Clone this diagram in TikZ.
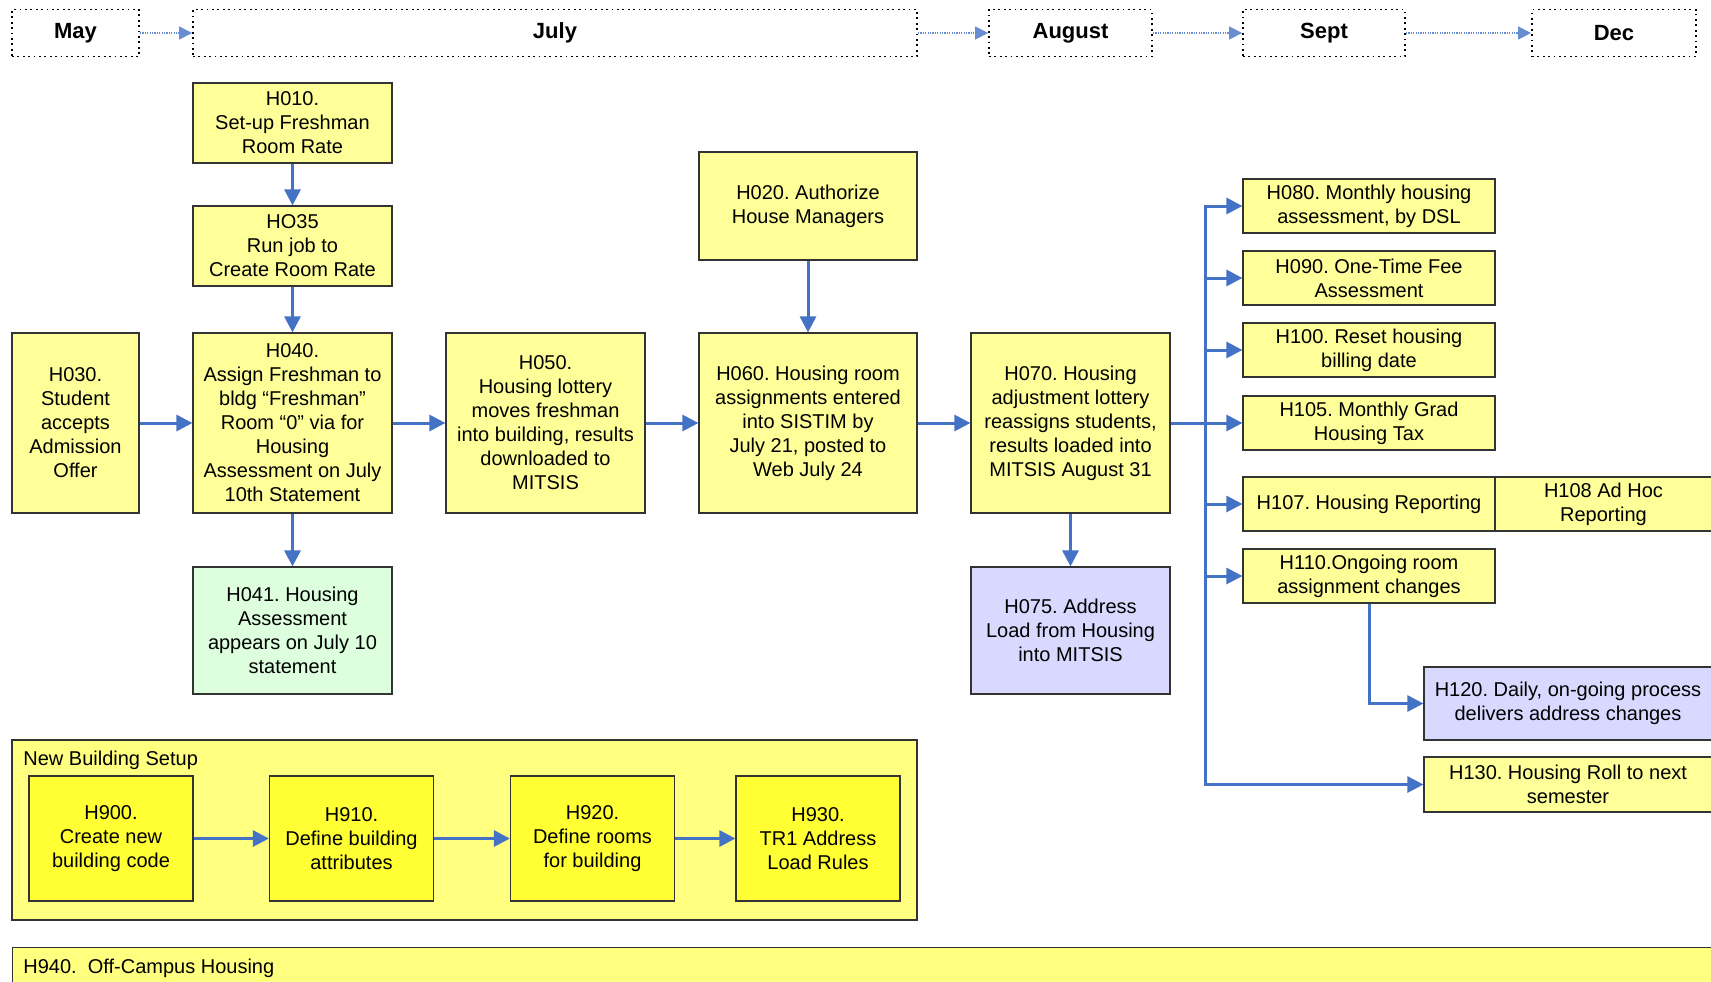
\documentclass[tikz,border=0pt]{standalone}
\usepackage{fontspec}
\setmainfont{Liberation Sans}
\usetikzlibrary{arrows.meta}
\frenchspacing
\definecolor{paleyellow}{HTML}{FFFF99}
\definecolor{setupyellow}{HTML}{FFFF80}
\definecolor{brightyellow}{HTML}{FFFF33}
\definecolor{palegreen}{HTML}{DDFFDD}
\definecolor{palelilac}{HTML}{D9D9FF}
\definecolor{flowblue}{HTML}{4472C4}
\tikzset{
  task/.style={draw=black!80, line width=0.6pt, fill=paleyellow, align=center, inner sep=0pt,
    font=\fontsize{10}{12}\selectfont},
  month/.style={draw=black, line width=0.9pt, dash pattern=on 0.9pt off 1.8pt, inner sep=0pt,
    minimum height=23.5pt, font=\fontsize{11}{13}\selectfont\bfseries},
  flowline/.style={draw=flowblue, line width=1.5pt},
  flow/.style={flowline, -{Triangle[length=8pt,width=8pt]}},
  timeflow/.style={draw=flowblue!80, line width=0.6pt, dash pattern=on 0.6pt off 0.6pt,
    -{Triangle[length=6.5pt,width=6.5pt]}},
}
\begin{document}
\begin{tikzpicture}[x=0.5pt,y=-0.5pt]
\useasboundingbox (0,0) rectangle (1711,981);
\clip (0,0) rectangle (1711,981);
% months
\node[month, minimum width=63.5pt] (may) at (75.5,33) {May};
\node[month, minimum width=362pt] (july) at (555,33) {July};
\node[month, minimum width=81.5pt] (aug) at (1070.5,33) {August};
\node[month, minimum width=81pt] (sept) at (1324,33) {Sept};
\node[month, minimum width=82pt] (dec) at (1614,33) {Dec};
\draw[timeflow] (may) -- (july);
\draw[timeflow] (july) -- (aug);
\draw[timeflow] (aug) -- (sept);
\draw[timeflow] (sept) -- (dec);
% main flow
\node[task, minimum width=99.5pt, minimum height=40pt] (h010) at (292.5,123) {H010.\\Set-up Freshman\\Room Rate};
\node[task, minimum width=99.5pt, minimum height=40pt] (h035) at (292.5,246) {HO35\\Run job to\\Create Room Rate};
\node[task, minimum width=63.5pt, minimum height=90pt] (h030) at (75.5,423) {H030.\\Student\\accepts\\Admission\\Offer};
\node[task, minimum width=99.5pt, minimum height=90pt] (h040) at (292.5,423) {H040.\\Assign Freshman to\\bldg “Freshman”\\Room “0” via for\\Housing\\Assessment on July\\10th Statement};
\node[task, fill=palegreen, minimum width=99.5pt, minimum height=63.5pt] (h041) at (292.5,630.5) {H041. Housing\\Assessment\\appears on July 10\\statement};
\node[task, minimum width=99.5pt, minimum height=90pt] (h050) at (545.5,423) {H050.\\Housing lottery\\moves freshman\\into building, results\\downloaded to\\MITSIS};
\node[task, minimum width=109pt, minimum height=54pt] (h020) at (808,206) {H020. Authorize\\House Managers};
\node[task, minimum width=109pt, minimum height=90pt] (h060) at (808,423) {H060. Housing room\\assignments entered\\into SISTIM by\\July 21, posted to\\Web July 24};
\node[task, minimum width=99.5pt, minimum height=90pt] (h070) at (1070.5,423) {H070. Housing\\adjustment lottery\\reassigns students,\\results loaded into\\MITSIS August 31};
\node[task, fill=palelilac, minimum width=99.5pt, minimum height=63.5pt] (h075) at (1070.5,630.5) {H075. Address\\Load from Housing\\into MITSIS};
% after the adjustment lottery
\node[task, minimum width=126pt, minimum height=27pt] (h080) at (1369,206) {H080. Monthly housing\\assessment, by DSL};
\node[task, minimum width=126pt, minimum height=27pt] (h090) at (1369,278) {H090. One-Time Fee\\Assessment};
\node[task, minimum width=126pt, minimum height=27pt] (h100) at (1369,350) {H100. Reset housing\\billing date};
\node[task, minimum width=126pt, minimum height=27pt] (h105) at (1369,423) {H105. Monthly Grad\\Housing Tax};
\node[task, minimum width=126pt, minimum height=27pt] (h107) at (1369,504) {H107. Housing Reporting};
\node[task, minimum width=108.5pt, minimum height=27pt] (h108) at (1603.5,504) {H108 Ad Hoc\\Reporting};
\node[task, minimum width=126pt, minimum height=27pt] (h110) at (1369,576) {H110.Ongoing room\\assignment changes};
\node[task, fill=palelilac, minimum width=144pt, minimum height=36.5pt] (h120) at (1568,703.5) {H120. Daily, on-going process\\delivers address changes};
\node[task, minimum width=144pt, minimum height=27.5pt] (h130) at (1568,784.5) {H130. Housing Roll to next\\semester};
\draw[flow] (h010) -- (h035);
\draw[flow] (h035) -- (h040);
\draw[flow] (h030) -- (h040);
\draw[flow] (h040) -- (h050);
\draw[flow] (h050) -- (h060);
\draw[flow] (h060) -- (h070);
\draw[flow] (h020) -- (h060);
\draw[flow] (h040) -- (h041);
\draw[flow] (h070) -- (h075);
\coordinate (bus) at (1205,423);
\draw[flow] (h070) -- (h105);
\draw[flowline, line cap=rect] (bus |- h080.west) -- (bus |- h130.west);
\foreach \t in {h080,h090,h100,h107,h110,h130}
  \draw[flow] (bus |- \t.west) -- (\t.west);
\draw[flow] (h110.south) |- (h120.west);
% new building setup
\node[task, fill=setupyellow, minimum width=452.5pt, minimum height=90pt] (setup) at (464.5,830) {};
\node[anchor=west, inner sep=0pt, font=\fontsize{10}{12}\selectfont] (setuptitle) at (23,760) {New Building Setup};
\node[task, fill=brightyellow, minimum width=82pt, minimum height=62.5pt] (h900) at (111,838.5) {H900.\\Create new\\building code};
\node[task, fill=brightyellow, minimum width=82pt, minimum height=62.5pt] (h910) at (351.5,838.5) {H910.\\Define building\\attributes};
\node[task, fill=brightyellow, minimum width=82pt, minimum height=62.5pt] (h920) at (592.5,838.5) {H920.\\Define rooms\\for building};
\node[task, fill=brightyellow, minimum width=82pt, minimum height=62.5pt] (h930) at (818,838.5) {H930.\\TR1 Address\\Load Rules};
\draw[flow] (h900) -- (h910);
\draw[flow] (h910) -- (h920);
\draw[flow] (h920) -- (h930);
% off-campus
\node[task, fill=setupyellow, anchor=north west, minimum width=880pt, minimum height=30pt] (h940) at (12,947) {};
\node[anchor=west, inner sep=0pt, font=\fontsize{10}{12}\selectfont] (h940title) at (23,968) {H940.\ \ Off-Campus Housing};
\end{tikzpicture}
\end{document}
